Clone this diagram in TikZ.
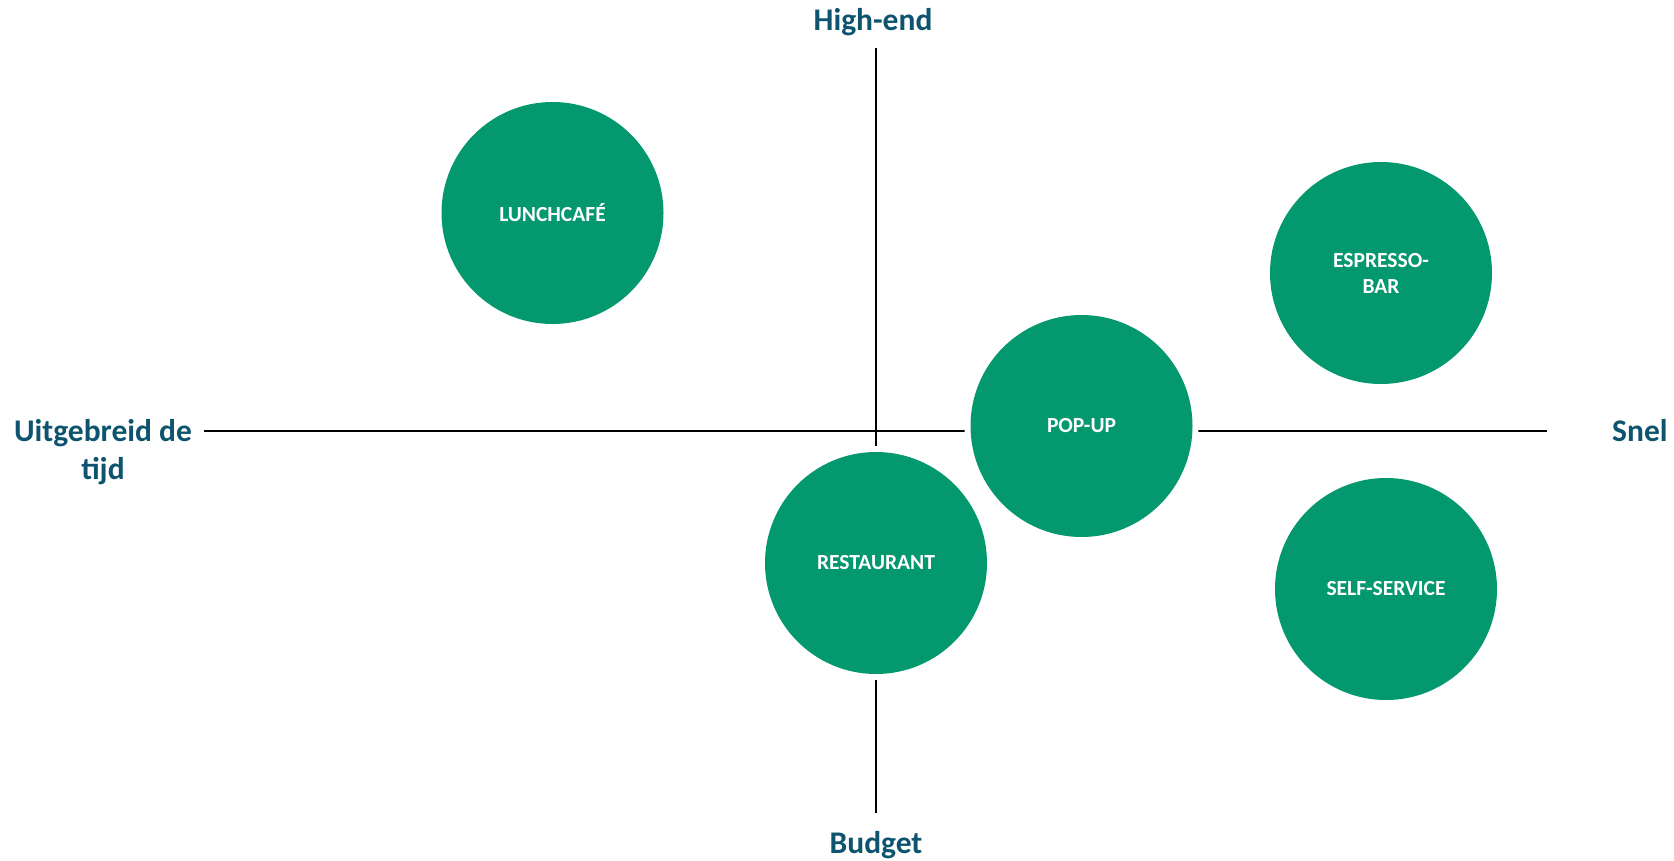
\documentclass[tikz,border=0pt]{standalone}
\usepackage{fontspec}
\setmainfont{Carlito}
\definecolor{dotgreen}{RGB}{3,152,110}
\definecolor{axislabel}{RGB}{14,84,110}
\begin{document}
\begin{tikzpicture}[x=1pt,y=-1pt,
  axis/.style={draw=black,line width=2.7pt},
  pole/.style={text=axislabel,inner sep=0pt,
    font=\bfseries\fontsize{31.5}{38}\selectfont,align=center},
  spot/.style={circle,fill=dotgreen,minimum size=222pt,inner sep=0pt,
    text=white,align=center,font=\bfseries\fontsize{21.5}{26}\selectfont,
    preaction={draw=white,line width=12pt}}]
\useasboundingbox (0,0) rectangle (1674,860);
% axis end points
\coordinate (west)  at (204,431);
\coordinate (east)  at (1547,431);
\coordinate (north) at (876,48);
\coordinate (south) at (876,813);
\draw[axis] (west) -- (east);
\draw[axis] (north) -- (south);
% pole labels
\node[pole,anchor=base] (high) at (873,30) {High-end};
\node[pole,anchor=base] (budget) at (876,853) {Budget};
\node[pole,anchor=base west] (snel) at (1612,441.7) {Snel};
\node[pole] (slow) at (103,452) {Uitgebreid de\\tijd};
% concepts
\node[spot] (lunch) at (552.5,213) {LUNCHCAF\'E};
\node[spot] (espresso) at (1381,273) {ESPRESSO-\\BAR};
\node[spot] (popup) at (1081.5,426) {POP-UP};
\node[spot] (restaurant) at (876,563) {RESTAURANT};
\node[spot] (self) at (1386,589) {SELF-SERVICE};
\end{tikzpicture}
\end{document}
